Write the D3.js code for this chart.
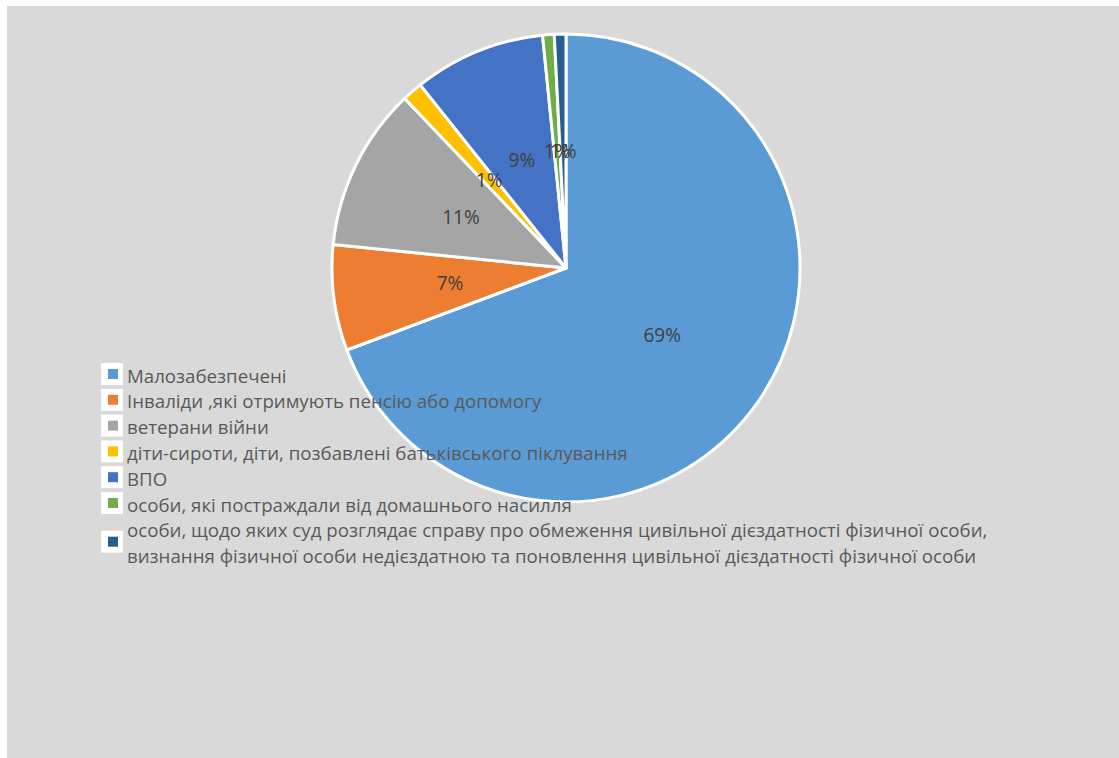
<!DOCTYPE html>
<html>
<head>
<meta charset="utf-8">
<script src="https://cdn.jsdelivr.net/npm/d3@7"></script>
<style>
  html, body { margin: 0; padding: 0; background: #ffffff; }
  svg { display: block; }
</style>
</head>
<body>
<svg id="chart" width="1119" height="758"></svg>
<script>
const categories = [
  "Малозабезпечені",
  "Інваліди ,які отримують пенсію або допомогу",
  "ветерани війни",
  "діти-сироти, діти, позбавлені батьківського піклування",
  "ВПО",
  "особи, які постраждали від домашнього насилля",
  "особи, щодо яких суд розглядає справу про обмеження цивільної дієздатності фізичної особи,\nвизнання фізичної особи недієздатною та поновлення цивільної дієздатності фізичної особи"
];
const values = [69.3, 7.3, 11.3, 1.4, 9.1, 0.8, 0.8];
const colors = ["#5B9BD5", "#ED7D31", "#A5A5A5", "#FFC000", "#4472C4", "#70AD47", "#255E91"];

const W = 1119, H = 758;
const svg = d3.select("#chart");
const FONT = "'Open Sans', 'Noto Sans', sans-serif";

svg.append("rect").attr("x", 7).attr("y", 6).attr("width", W - 7).attr("height", H - 6).attr("fill", "#D9D9D9");

const cx = 566, cy = 268, R = 234;
const total = d3.sum(values);
const data = categories.map((c, i) => ({ name: c, value: values[i], color: colors[i] }));

const pie = d3.pie().value(d => d.value).sort(null);
const arcs = pie(data);
const arc = d3.arc().innerRadius(0).outerRadius(R);

const g = svg.append("g").attr("transform", `translate(${cx},${cy})`);
g.selectAll("path").data(arcs).join("path")
  .attr("d", arc)
  .attr("fill", d => d.data.color)
  .attr("stroke", "#ffffff")
  .attr("stroke-width", 3)
  .attr("stroke-linejoin", "round");

g.selectAll("text.lbl").data(arcs).join("text")
  .attr("class", "lbl")
  .attr("transform", d => `translate(${arc.centroid(d)})`)
  .attr("text-anchor", "middle")
  .attr("dominant-baseline", "central")
  .attr("font-family", FONT)
  .attr("font-size", 15)
  .attr("fill", "#404040")
  .text(d => Math.round(d.data.value / total * 100) + "%");

// legend
const lx = 101, ly0 = 374, step = 25.8;
const leg = svg.append("g");
let row = 0;
data.forEach((d, i) => {
  const lines = d.name.split("\n");
  const yTop = ly0 + row * step;
  const yMid = yTop + (lines.length - 1) * step / 2;
  leg.append("rect").attr("x", lx).attr("y", yMid - 11).attr("width", 22).attr("height", 22).attr("fill", "#ffffff");
  leg.append("rect").attr("x", lx + 7).attr("y", yMid - 5).attr("width", 10).attr("height", 10).attr("fill", d.color);
  lines.forEach((ln, k) => {
    leg.append("text")
      .attr("class", "legtxt")
      .attr("x", 127)
      .attr("y", yTop + k * step + 1)
      .attr("dominant-baseline", "central")
      .attr("font-family", FONT)
      .attr("font-size", 16)
      .attr("fill", "#595959")
      .text(ln);
  });
  row += lines.length;
});
// fit legend font so the longest line spans like the reference (~861px)
const texts = leg.selectAll("text.legtxt").nodes();
const maxW = d3.max(texts, n => n.getComputedTextLength());
const fs = 16 * 861 / maxW;
leg.selectAll("text.legtxt").attr("font-size", fs);
g.selectAll("text.lbl").attr("font-size", Math.max(13, fs * 1.02));
</script>
</body>
</html>
